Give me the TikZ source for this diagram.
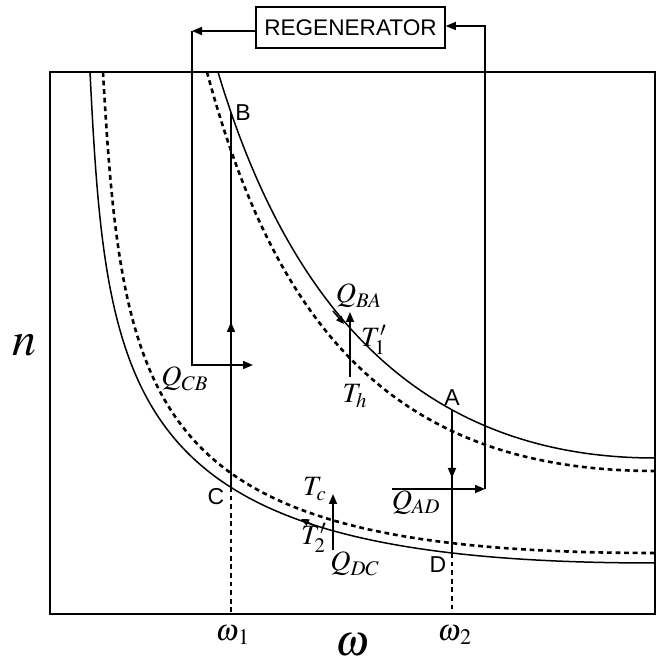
\documentclass[tikz,border=0pt]{standalone}
\usepackage{mathptmx}
\usepackage{fontspec}
\setsansfont{Liberation Sans}
\usetikzlibrary{arrows.meta, positioning}

\begin{document}
\begin{tikzpicture}[x=0.5pt, y=-0.5pt, line width=0.75pt,
    >={Triangle[length=5pt,width=4pt]},
    isodash/.style={line width=1.3pt, dash pattern=on 2.4pt off 1.9pt},
    dirtip/.style={-{Triangle[length=4pt,width=3.4pt]}},
    lbl/.style={inner sep=0pt, font=\fontsize{14}{16}\selectfont},
    pnt/.style={inner sep=0pt, font=\sffamily\fontsize{11.5}{13}\selectfont}]
    \useasboundingbox (0,0) rectangle (660,657);

    % axes frame
    \draw (50,72) rectangle (655,614);

    % cycle corners
    \coordinate (B) at (231,113);
    \coordinate (C) at (231,487);
    \coordinate (A) at (452,410);
    \coordinate (D) at (452,553);
    \coordinate (w1) at (231,614);
    \coordinate (w2) at (452,614);

    % isotherms
    \draw (218,72) .. controls (285,296) and (411,458) .. (655,458);
    \draw[isodash] (207,72) .. controls (276,329) and (396,471) .. (655,471);
    \draw (90,72) .. controls (107,412) and (125,563) .. (655,563);
    \draw[isodash] (103,72) .. controls (123,422) and (150,553) .. (655,553);

    % direction along the isotherms
    \coordinate (hot0) at (333,311);
    \coordinate (hot1) at (344,324);
    \coordinate (cold0) at (318,527.5);
    \coordinate (cold1) at (301,519);
    \draw[dirtip] (hot0) -- (hot1);
    \draw[dirtip] (cold0) -- (cold1);

    % isochores
    \draw (C) -- (B);
    \draw[->] (C) -- (231,322);
    \draw (A) -- (D);
    \draw[->] (A) -- (452,478);
    \draw[isodash] (C) -- (w1);
    \draw[isodash] (D) -- (w2);

    % regenerator loop
    \node[draw, inner sep=0pt, minimum width=94.5pt, minimum height=20.5pt,
        font=\sffamily\fontsize{11.3}{13}\selectfont] (regen) at (350.5,27.5) {REGENERATOR};
    \coordinate (rl) at (192,31);
    \coordinate (rr) at (485,26);
    \coordinate (qcb) at (253,365);
    \coordinate (qad0) at (392,489);
    \coordinate (qad1) at (485,489);
    \draw[->] (regen.west |- rl) -- (rl);
    \draw[->] (rl) -- (rl |- qcb) -- (qcb);
    \draw[->] (qad0) -- (qad1);
    \draw[->] (qad1) -- (rr) -- (regen.east |- rr);

    % heat exchange arrows
    \coordinate (qba0) at (350,377);
    \coordinate (qba1) at (350,312);
    \coordinate (qdc0) at (333,550);
    \coordinate (qdc1) at (333,494);
    \draw[->] (qba0) -- (qba1);
    \draw[->] (qdc0) -- (qdc1);

    % labels
    \node[pnt] (lB) at (243,113) {B};
    \node[pnt] (lA) at (452,398) {A};
    \node[pnt] (lC) at (216,497) {C};
    \node[pnt] (lD) at (438,565) {D};
    \node[lbl] (lQBA) at (359,296) {$Q_{BA}$};
    \node[lbl] (lT1) at (374,340) {$T'_1$};
    \node[lbl] (lTh) at (355,396) {$T_h$};
    \node[lbl] (lQCB) at (185,379) {$Q_{CB}$};
    \node[lbl] (lTc) at (315,489) {$T_c$};
    \node[lbl] (lT2) at (314,538) {$T'_2$};
    \node[lbl] (lQDC) at (355,564) {$Q_{DC}$};
    \node[lbl, anchor=north west] (lQAD) at (391,490) {$Q_{AD}$};
    \node[inner sep=0pt, font=\fontsize{15}{17}\selectfont] (lw1) at (233,635) {$\omega_{\kern1pt 1}$};
    \node[inner sep=0pt, font=\fontsize{15}{17}\selectfont] (lw2) at (455,635) {$\omega_{\kern1pt 2}$};
    \node[inner sep=0pt, font=\fontsize{22}{26}\selectfont] (lw) at (352,645) {$\omega$};
    \node[inner sep=0pt, font=\fontsize{24}{28}\selectfont] (ln) at (24,345) {$n$};
\end{tikzpicture}
\end{document}
